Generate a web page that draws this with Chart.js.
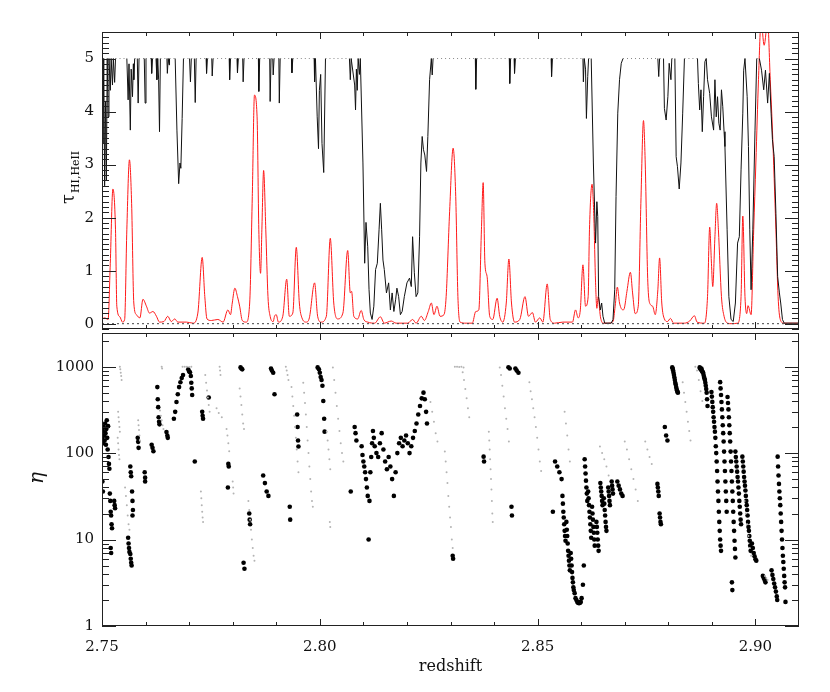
<!DOCTYPE html>
<html lang="en">
<head>
<meta charset="UTF-8">
<title>tau HI / HeII and eta vs redshift</title>
<script src="https://cdn.jsdelivr.net/npm/chart.js"></script>
<style>
  * { margin: 0; padding: 0; box-sizing: border-box; }
  body { background: #fff; width: 830px; height: 692px; position: relative; overflow: hidden; }
  .panel { position: absolute; left: 0; width: 830px; }
  #topPanel { top: 0; height: 330px; }
  #botPanel { top: 329px; height: 363px; }
</style>
</head>
<body>
<div class="panel" id="topPanel"><canvas id="tauChart"></canvas></div>
<div class="panel" id="botPanel"><canvas id="etaChart"></canvas></div>

<script>
// ---- data ----
const xMajorTicks = [2.75, 2.80, 2.85, 2.90];
const tauTicks = [0, 1, 2, 3, 4, 5];
const etaTicks = [1, 10, 100, 1000];

// tau HI (red)
const hiZ = [
  2.7500,2.7506,2.7514,2.7519,2.7525,2.7531,2.7534,2.7541,2.7547,2.7552,2.7557,2.7563,2.7568,2.7573,2.7579,2.7587,
  2.7594,2.7602,2.7609,2.7617,2.7625,2.7632,2.7642,2.7651,2.7659,2.7667,2.7674,2.7694,2.7709,2.7720,2.7730,2.7736,
  2.7741,2.7751,2.7766,2.7778,2.7789,2.7795,2.7799,2.7805,2.7811,2.7816,2.7822,2.7831,2.7839,2.7845,2.7850,2.7856,
  2.7860,2.7864,2.7867,2.7871,2.7876,2.7881,2.7886,2.7893,
  2.7896,2.7900,2.7905,2.7915,2.7924,2.7930,2.7938,2.7946,2.7953,2.7959,2.7969,2.7976,2.7988,2.7995,2.8003,2.8015,
  2.8024,2.8032,2.8041,2.8053,2.8064,2.8070,2.8073,2.8078,2.8087,2.8095,2.8101,2.8110,2.8126,2.8139,2.8148,2.8164,
  2.8175,2.8202,2.8213,2.8221,2.8233,2.8240,2.8249,2.8256,2.8262,2.8269,2.8276,2.8285,2.8290,2.8298,
  2.8306,2.8312,2.8317,2.8322,2.8336,2.8350,2.8358,2.8365,2.8371,2.8375,2.8379,2.8384,2.8390,2.8397,2.8407,2.8413,
  2.8420,2.8428,2.8434,2.8440,2.8447,2.8459,2.8471,2.8479,2.8488,2.8495,2.8505,2.8512,2.8522,2.8529,2.8539,2.8558,
  2.8580,2.8587,2.8593,2.8598,2.8604,2.8610,2.8616,2.8619,2.8625,2.8629,2.8633,2.8636,2.8639,2.8644,2.8650,2.8661,
  2.8673,2.8678,2.8683,2.8688,2.8696,
  2.8699,2.8705,2.8713,2.8718,2.8724,2.8731,2.8737,2.8743,2.8747,2.8753,2.8759,2.8764,2.8770,2.8776,2.8780,2.8785,
  2.8791,2.8798,2.8805,2.8812,2.8837,2.8849,2.8860,2.8866,2.8883,2.8890,2.8895,2.8899,2.8902,2.8907,2.8911,2.8915,
  2.8922,2.8928,2.8936,2.8944,2.8959,2.8967,2.8971,2.8976,2.8980,2.8983,2.8990,2.8996,2.9001,2.9007,2.9013,2.9020,
  2.9028,2.9034,2.9039,2.9047,2.9052,2.9057,2.9065,2.9100
];
const hiTau = [
  0.09,0.11,0.08,1.14,2.54,1.77,0.33,0.13,0.03,0.08,1.77,3.09,2.27,0.39,0.17,0.11,
  0.46,0.33,0.20,0.23,0.14,0.03,0.04,0.14,0.04,0.09,0.03,0.03,0.01,0.20,1.25,0.51,
  0.09,0.06,0.08,0.03,0.26,0.17,0.39,0.67,0.51,0.33,0.06,0.03,0.39,2.40,4.31,3.90,
  1.77,0.95,1.77,2.89,1.77,0.51,0.14,0.04,
  0.14,0.17,0.03,0.14,0.84,0.14,0.20,1.44,0.39,0.11,0.03,0.11,0.77,0.14,0.03,0.14,
  1.61,0.39,0.09,0.20,1.38,0.58,0.61,0.14,0.09,0.25,0.08,0.03,0.01,0.13,0.01,0.05,
  0.01,0.01,0.08,0.01,0.14,0.06,0.23,0.39,0.17,0.33,0.14,0.17,0.51,2.12,
  3.31,2.40,0.51,0.03,0.01,0.01,0.23,0.26,1.77,2.66,1.14,0.89,0.14,0.08,0.48,0.14,
  0.03,0.39,1.22,0.39,0.03,0.08,0.51,0.14,0.21,0.03,0.11,0.03,0.75,0.08,0.01,0.03,
  0.03,0.26,0.11,0.26,1.11,0.33,0.51,1.77,2.63,2.02,0.77,0.29,0.51,0.14,0.01,0.01,
  0.04,0.33,0.69,0.39,0.26,
  0.29,0.61,0.97,0.58,0.19,0.33,2.27,3.83,3.03,0.77,0.36,0.33,0.17,0.64,1.24,0.39,
  0.09,0.04,0.10,0.01,0.01,0.05,0.15,0.03,0.01,0.51,1.82,1.14,0.70,1.64,2.27,1.77,
  0.51,0.14,0.01,0.00,0.01,0.51,2.03,0.51,0.19,0.34,0.17,1.77,3.03,4.60,5.70,5.25,
  5.70,4.60,3.65,1.77,0.51,0.08,0.01,0.01
];

// tau HeII (black), capped at 5
const heZ = [
  2.7500,2.7502,2.7504,2.7506,2.7508,2.7510,2.7512,2.7514,2.7516,2.7519,2.7521,2.7524,2.7526,2.7529,2.7531,
  2.7557,2.7560,2.7562,2.7565,2.7567,2.7570,2.7572,2.7573,2.7575,2.7581,2.7583,2.7585,2.7597,2.7599,2.7601,
  2.7613,2.7614,2.7616,2.7624,2.7626,2.7628,2.7630,2.7632,2.7634,2.7649,2.7650,2.7652,2.7654,2.7655,
  2.7668,2.7672,2.7676,2.7679,2.7681,2.7684,2.7687,2.7701,2.7703,2.7705,2.7712,2.7714,2.7716,
  2.7739,2.7740,2.7742,2.7752,2.7753,2.7755,2.7792,2.7793,2.7795,2.7810,2.7811,2.7813,2.7823,2.7824,2.7826,
  2.7859,2.7860,2.7862,2.7885,2.7886,2.7888,2.7892,2.7893,2.7895,2.7906,2.7907,2.7909,2.7935,2.7936,2.7938,
  2.7987,2.7988,2.7990,2.7994,2.7997,2.7999,2.8002,2.8005,2.8009,2.8013,
  2.8068,2.8070,2.8072,2.8080,2.8082,2.8084,2.8086,2.8088,2.8091,2.8093,2.8099,2.8103,2.8106,2.8110,2.8113,
  2.8116,2.8120,2.8124,2.8128,2.8132,2.8136,2.8139,2.8142,2.8145,2.8148,2.8153,2.8158,2.8162,2.8166,2.8170,
  2.8174,2.8177,2.8181,2.8185,2.8189,2.8194,2.8200,2.8206,2.8210,2.8213,2.8217,2.8221,2.8225,2.8229,2.8232,
  2.8235,2.8238,2.8241,2.8245,2.8248,2.8252,2.8256,2.8258,2.8260,
  2.8357,2.8358,2.8360,2.8435,2.8436,2.8438,2.8446,2.8447,2.8449,2.8531,2.8532,2.8534,
  2.8604,2.8605,2.8607,2.8610,2.8612,2.8615,2.8617,2.8623,2.8628,2.8633,2.8636,2.8638,2.8640,2.8644,2.8647,
  2.8650,2.8654,2.8669,2.8673,2.8677,2.8680,2.8684,2.8688,2.8692,2.8696,
  2.8776,2.8778,2.8780,2.8789,2.8791,2.8795,2.8799,2.8802,2.8806,2.8808,2.8815,2.8818,2.8821,2.8825,2.8829,
  2.8833,2.8837,2.8867,2.8869,2.8872,2.8875,2.8878,2.8881,2.8884,2.8887,2.8890,2.8895,2.8899,2.8904,2.8907,
  2.8910,2.8913,2.8916,2.8919,2.8922,2.8925,2.8928,2.8930,2.8935,2.8939,2.8944,2.8949,2.8954,2.8959,2.8963,
  2.8967,2.8971,2.8973,2.8976,2.8981,2.8984,2.8987,2.8990,2.8994,2.8999,2.9003,2.9009,2.9014,2.9019,2.9023,
  2.9028,2.9032,2.9036,2.9039,2.9043,2.9047,2.9051,2.9055,2.9058,2.9062,2.9066,2.9100
];
const heTau = [
  5,3.4,5,2.6,4.2,2.7,5,3.9,5,4.4,5,4.5,5,4.55,5,
  5,4.22,4.9,3.65,4.8,4.28,4.9,4.6,5,5,4.16,5,5,4.16,5,
  5,4.72,5,5,4.6,5,4.6,3.62,5,5,4.72,5,4.88,5,
  5,3.65,2.64,3.03,2.93,3.87,5,5,4.56,5,5,4.17,5,
  5,4.72,5,5,4.67,5,5,4.6,5,5,4.73,5,5,4.56,5,
  5,4.38,5,5,4.19,5,5,4.69,5,5,4.16,5,5,4.73,5,
  5,4.56,5,3.9,3.3,4.4,4.7,3.4,2.85,5,
  5,4.6,5,4.5,4.03,4.8,4.4,5,4.7,5,3.03,1.14,1.91,1.45,0.64,
  0.20,0.08,0.33,1.02,1.14,1.77,2.27,1.77,1.20,1.02,0.58,0.77,0.26,0.58,0.23,
  0.45,0.67,0.51,0.17,0.23,0.51,0.77,0.86,0.70,1.64,0.96,0.51,0.58,1.64,3.03,
  3.53,3.28,3.18,2.87,3.53,4.6,5,4.69,5,
  5,4.42,5,5,4.53,5,5,4.72,5,5,4.66,5,
  5,4.56,5,4.8,3.87,4.66,5,5,3.03,1.52,2.30,2.02,0.51,0.26,0.39,
  0.14,0.01,0.01,0.08,0.64,2.40,3.97,4.6,4.91,5,
  5,4.66,5,5,4.06,3.84,4.28,4.91,4.6,5,5,3.15,2.96,2.54,3.03,
  3.97,5,5,4.53,4.03,4.41,3.62,4.28,4.94,5,4.6,4.34,3.9,3.65,4.6,
  3.9,4.28,3.78,3.65,4.41,4.09,3.62,3.34,1.77,0.51,0.08,0.04,0.39,1.52,1.64,
  2.90,3.97,4.78,5,4.28,3.34,1.77,0.64,1.77,3.65,5,5,4.78,4.41,4.78,
  4.16,4.72,3.97,3.47,3.15,2.08,0.89,0.58,0.39,0.08,0.01,0.01
];

// eta, black dots
const etaBlackZ = [
  2.7501,2.7502,2.7503,2.7504,2.7505,2.7506,2.7507,2.7508,2.7509,2.7510,2.7511,2.7512,2.7513,2.7514,2.7515,2.7516,
  2.7517,2.7501,2.7502,2.7518,2.7519,2.7520,2.7521,2.7522,2.7523,2.7520,2.7521,2.7528,2.7529,2.7530,
  2.7560,2.7561,2.7562,2.7563,2.7565,2.7566,2.7567,2.7568,2.7569,2.7570,2.7571,2.7570,2.7565,2.7566,2.7567,
  2.7582,2.7583,2.7584,2.7598,2.7599,2.7599,2.7614,2.7616,2.7618,
  2.7627,2.7628,2.7629,2.7630,2.7631,2.7632,2.7648,2.7650,2.7651,
  2.7665,2.7668,2.7671,2.7674,2.7677,2.7680,2.7683,2.7686,2.7698,2.7700,2.7702,2.7704,2.7705,2.7706,2.7707,
  2.7713,2.7730,2.7731,2.7732,2.7745,2.7790,2.7791,2.7818,2.7820,2.7822,2.7789,2.7825,2.7827,2.7838,2.7839,2.7840,
  2.7870,2.7874,2.7878,2.7882,2.7888,2.7890,2.7893,2.7896,2.7931,2.7932,2.7948,2.7949,2.7950,2.7951,
  2.7995,2.7998,2.8000,2.8002,2.8004,2.8006,2.8008,2.8010,2.8011,2.8071,2.8080,2.8082,2.8084,
  2.8096,2.8098,2.8100,2.8102,2.8104,2.8106,2.8108,2.8110,2.8112,2.8114,2.8116,2.8118,2.8120,2.8122,2.8124,2.8126,
  2.8130,2.8134,2.8138,2.8142,2.8146,2.8150,2.8154,2.8158,2.8162,2.8166,2.8170,2.8174,2.8178,2.8182,2.8186,2.8190,
  2.8194,2.8198,2.8202,2.8206,2.8210,2.8214,2.8218,2.8222,2.8226,2.8230,2.8234,2.8238,2.8241,2.8244,2.8246,
  2.8305,2.8306,2.8376,2.8377,2.8433,2.8436,2.8440,2.8441,2.8449,2.8452,2.8456,2.8535,
  2.8540,2.8545,2.8550,2.8555,
  2.8557,2.8558,2.8559,2.8560,2.8561,2.8562,2.8563,2.8564,
  2.8566,2.8567,2.8568,2.8569,2.8570,2.8571,2.8572,2.8573,2.8574,
  2.8576,2.8577,2.8578,2.8579,2.8580,2.8581,2.8582,2.8583,
  2.8585,2.8587,2.8589,2.8591,2.8593,2.8595,2.8597,2.8599,2.8601,2.8604,2.8606,
  2.8608,2.8609,2.8610,2.8611,2.8612,2.8613,2.8614,
  2.8616,2.8617,2.8618,2.8619,2.8620,2.8621,2.8622,2.8623,
  2.8625,2.8626,2.8627,2.8628,2.8629,2.8630,2.8631,
  2.8635,2.8636,2.8637,2.8638,2.8639,2.8640,
  2.8644,2.8645,2.8646,2.8647,2.8648,2.8649,
  2.8652,2.8653,2.8654,2.8655,2.8656,2.8657,2.8658,
  2.8662,2.8663,2.8664,2.8665,2.8666,2.8670,2.8671,2.8672,2.8673,
  2.8683,2.8686,2.8689,2.8692,2.8695,
  2.8775,2.8776,2.8777,2.8778,2.8780,2.8781,2.8782,2.8783,2.8792,2.8795,2.8798,
  2.8809,2.8810,2.8811,2.8812,2.8813,2.8814,2.8815,2.8816,2.8817,2.8818,2.8819,2.8820,2.8821,2.8822,
  2.8872,2.8873,2.8874,2.8875,2.8876,2.8877,2.8878,2.8879,2.8880,2.8881,2.8882,2.8883,2.8884,2.8885,2.8886,2.8887,
  2.8888,2.8889,2.8890,
  2.8899,2.8900,2.8901,2.8902,2.8903,2.8904,2.8905,2.8906,2.8907,2.8908,2.8909,2.8910,2.8911,2.8912,2.8913,2.8914,
  2.8915,2.8916,2.8917,2.8918,2.8919,2.8920,2.8921,
  2.8919,2.8920,2.8921,2.8922,2.8923,2.8924,2.8925,2.8926,2.8927,2.8928,2.8929,2.8930,2.8931,2.8932,2.8933,2.8934,
  2.8936,2.8937,2.8938,2.8939,2.8940,2.8941,2.8942,2.8943,2.8944,2.8945,2.8946,2.8947,2.8948,2.8949,2.8950,2.8951,
  2.8952,2.8953,2.8954,2.8946,2.8947,
  2.8954,2.8955,2.8956,2.8957,2.8958,2.8959,2.8960,2.8961,2.8962,2.8963,2.8964,2.8965,2.8966,2.8967,
  2.8970,2.8971,2.8972,2.8973,2.8974,2.8975,2.8976,2.8977,2.8978,2.8979,2.8980,2.8981,2.8982,2.8983,2.8984,2.8985,
  2.8986,2.8987,2.8988,2.8989,
  2.8992,2.8994,2.8996,2.8998,2.9000,2.9002,2.9017,2.9019,2.9021,2.9023,
  2.9037,2.9039,2.9041,2.9043,2.9045,2.9047,2.9049,2.9050,
  2.9051,2.9052,2.9053,2.9054,2.9055,2.9056,2.9057,2.9058,2.9059,2.9060,2.9061,2.9062,2.9063,2.9064,2.9065,2.9066,
  2.9067,2.9068,2.9069
];
const etaBlack = [
  150,180,130,200,160,140,220,170,125,190,240,150,110,205,90,75,
  66,47,36,34,28,21,19,15,13.5,8,7,28,25,23,
  10.5,9,8,7.2,6.8,6,5.4,5,36,28,22,19,70,60,54,
  150,135,115,60,52,47,125,115,105,
  580,420,340,260,230,215,175,160,150,
  250,300,390,480,580,660,740,800,930,880,860,780,650,560,470,
  80,300,270,250,440,75,70,980,950,930,40,5.4,4.6,20,17,15,
  55,45,36,32,950,900,850,480,24,17,280,200,140,119,
  980,930,850,760,700,600,400,250,177,36,200,170,140,
  120,95,80,70,60,50,40,32,10,28,60,90,130,180,150,120,
  100,90,130,170,110,80,65,90,70,50,32,60,100,130,150,120,
  140,160,130,100,120,150,180,220,280,350,430,500,420,300,220,
  6.5,6,91,80,984,950,24,19,950,900,850,21,
  80,70,60,50,
  32,26,21,18,15,12.6,11,9.7,
  16,13,11,9,7.4,6.5,5.7,5,4.4,
  7,6,5,4.2,3.6,3.2,2.8,2.6,
  2.4,2.1,2.0,1.9,1.85,1.84,1.85,1.9,2.1,3,5,
  85,70,58,48,40,34,28,
  36,30,25,21,18,15,12.6,10.5,
  24,20,17,14,12,10,8.5,
  16,14,12,10,8.5,7.4,
  45,40,36,32,28,25,
  30,26,22,19,16,14,12.6,
  40,36,32,28,25,47,42,38,34,
  47,42,38,34,32,
  44,40,36,32,20,18,16,15,200,160,140,
  980,950,900,850,800,750,700,650,620,580,550,530,510,500,
  980,960,940,920,950,900,880,860,850,800,760,730,700,650,600,550,
  500,420,350,
  509,450,391,340,300,260,230,200,177,150,120,100,80,62,47,36,
  28,21,16,12.6,10,8.5,7.4,
  662,560,470,390,320,260,210,170,136,104,80,62,47,36,28,21,
  446,380,320,260,210,170,136,104,80,62,47,36,28,21,16,12.6,
  9.7,7.8,6.2,3.2,2.6,
  104,90,80,70,61,53,47,40,34,28,24,20,17,15,
  91,80,70,61,53,47,42,37,32,28,25,22,19,16,14,12.6,
  11,9.7,8.5,7.4,
  9,8,7,6.4,5.9,5.7,3.8,3.6,3.4,3.2,
  4.4,3.9,3.5,3.1,2.8,2.5,2.2,2.0,
  91,70,55,44,36,30,25,20,16,12.6,10,8,6.5,5.5,4.6,3.8,
  3.2,2.8,1.9
];

// eta, grey dots (streaks)
const etaGreyZ = [
  2.7541,2.7542,2.7543,2.7544,2.7545, 2.7537,2.7538,2.7539,2.7540,2.7541, 2.7536,2.7537,2.7538,2.7539,2.7540,
  2.7583,2.7584,2.7585,2.7586,2.7587, 2.7553,2.7555,2.7557,2.7559,2.7561,2.7563,
  2.7633,2.7635,2.7637,2.7639,2.7641, 2.7637,2.7638, 2.7685,2.7690,2.7695,2.7700,2.7705,
  2.7737,2.7739,2.7741,2.7743,2.7745,2.7747, 2.7763,2.7768,2.7775, 2.7770,2.7771,2.7772,
  2.7786,2.7788,2.7790,2.7792, 2.7816,2.7818,2.7820,2.7822,2.7824,2.7826,
  2.7727,2.7728,2.7729,2.7730,2.7731,2.7732, 2.7800,2.7801,2.7802,
  2.7836,2.7838,2.7840,2.7842,2.7844,2.7846,2.7848,2.7850,
  2.7922,2.7924,2.7926,2.7928, 2.7935,2.7937,2.7939,2.7941,2.7943,2.7945,2.7947,2.7949,2.7951,
  2.7962,2.7964,2.7966,2.7968,2.7970,2.7972,2.7974,2.7976,2.7978,2.7980,2.7982,2.7984,
  2.8016,2.8018,2.8020,2.8022,2.8024, 2.8023,2.8024,
  2.8030,2.8033,2.8036,2.8039,2.8042,2.8045,2.8048,2.8051,2.8054,
  2.8254,2.8258,2.8262,2.8266,2.8270,
  2.8287,2.8289,2.8291,2.8293,2.8295,2.8297,2.8299,2.8301,2.8303,2.8305,
  2.8310,2.8315,2.8320,2.8325,2.8330, 2.8328,2.8331,2.8334,2.8337,2.8340,2.8343,
  2.8388,2.8389,2.8390,2.8391,2.8392,2.8393,2.8394,2.8395,2.8396,2.8397,
  2.8413,2.8416,2.8419,2.8422,2.8425,2.8428,2.8431,2.8434,
  2.8481,2.8484,2.8487,2.8490,2.8493,2.8496,2.8499,2.8502,2.8505,2.8508,
  2.8562,2.8565,2.8568,2.8571,2.8574, 2.8643,2.8648,2.8653,2.8658,2.8663,
  2.8700,2.8705,2.8710,2.8715,2.8720,2.8725,2.8730, 2.8747,2.8752,2.8757,2.8762,
  2.8833,2.8836,2.8839,2.8842,2.8845,2.8848,2.8851, 2.8862,2.8866,2.8870,2.8874,2.8878,
  2.8975,2.8978,2.8981,2.8984,2.8987,2.8990, 2.9022,2.9025,2.9028
];
const etaGrey = [
  1000,930,850,780,700, 300,260,230,200,177, 150,130,110,95,85,
  240,210,185,160,140, 40,32,25,19,15,13,
  310,270,240,210,190, 1000,950, 1000,1000,1000,990,1000,
  800,650,530,440,360,300, 330,290,260, 1000,900,800,
  190,160,130,105, 560,450,360,280,220,190,
  36,30,25,21,18,16, 47,40,34,
  28,22,17,13,10,8,6.5,5.7,
  1000,900,800,700, 580,450,350,270,200,150,110,80,60,
  650,500,380,280,200,140,100,70,50,36,28,24,
  177,140,110,85,65, 16,14,
  980,700,500,350,250,180,130,100,80,
  390,300,230,170,136,
  104,80,60,45,32,24,18,14,10,8,
  1000,1000,990,1000,980, 860,700,550,430,330,260,
  177,140,110,85,65,50,38,28,20,16,
  980,800,600,450,330,250,190,136,
  660,520,420,330,260,200,150,110,80,62,
  300,220,160,110,80, 119,100,85,70,55,
  136,110,85,65,50,38,28, 136,110,90,75,
  660,500,390,300,230,180,140, 1000,900,700,520,400,
  28,20,15,11,8,6.5, 3.8,3.6,3.4
];

// ---- helpers ----
const pts = (xs, ys) => xs.map((x, i) => ({ x: x, y: ys[i] }));
const serif = 'DejaVu Serif';
const X_MIN = 2.75, X_MAX = 2.91;

// inward tick marks and frame, drawn on every edge like the original plot
const frameTicks = {
  id: 'frameTicks',
  afterDraw(chart, args, opts) {
    const { ctx, chartArea: a, scales } = chart;
    const xs = scales.x, ys = scales.y;
    ctx.save();
    ctx.strokeStyle = '#222';
    ctx.lineWidth = 1;
    ctx.strokeRect(Math.round(a.left) + 0.5, Math.round(a.top) + 0.5,
                   Math.round(a.width) - 1, Math.round(a.height) - 1);
    ctx.beginPath();
    const tickX = (v, len) => {
      const px = Math.round(xs.getPixelForValue(v)) + 0.5;
      ctx.moveTo(px, a.top); ctx.lineTo(px, a.top + len);
      ctx.moveTo(px, a.bottom); ctx.lineTo(px, a.bottom - len);
    };
    const tickY = (v, len) => {
      const py = Math.round(ys.getPixelForValue(v)) + 0.5;
      ctx.moveTo(a.left, py); ctx.lineTo(a.left + len, py);
      ctx.moveTo(a.right, py); ctx.lineTo(a.right - len, py);
    };
    for (let k = 1; k < 16; k++) {
      if (k % 5) tickX(X_MIN + k * 0.01, 4);
    }
    xMajorTicks.forEach(v => tickX(v, 7));
    opts.yMinor.forEach(v => tickY(v, 7));
    opts.yMajor.forEach(v => tickY(v, 14));
    ctx.stroke();

    // axis titles
    ctx.fillStyle = '#111';
    if (opts.title === 'tau') {
      ctx.translate(74, 204);
      ctx.rotate(-Math.PI / 2);
      ctx.font = '18px ' + serif;
      ctx.textBaseline = 'alphabetic';
      ctx.fillText('τ', 0, 0);
      const w = ctx.measureText('τ').width;
      ctx.font = '11px ' + serif;
      ctx.fillText('HI,HeII', w + 1, 5);
    } else if (opts.title === 'eta') {
      ctx.translate(43, 149);
      ctx.rotate(-Math.PI / 2);
      ctx.font = 'italic 20px ' + serif;
      ctx.textAlign = 'center';
      ctx.fillText('η', 0, 0);
    }
    ctx.restore();
  }
};

const fixAxis = (w, h) => (s) => {
  if (w) s.width = w;
  if (h) s.height = h;
  s.paddingTop = 0; s.paddingBottom = 0; s.paddingLeft = 0; s.paddingRight = 0;
};

// minor tick positions
const tauMinor = [];
for (let k = -1; k <= 55; k++) if (k % 10) tauMinor.push(k / 10);
const etaMinor = [];
[1, 10, 100, 1000].forEach(d => { for (let m = 2; m <= 9; m++) if (d * m < 2450) etaMinor.push(d * m); });

// ---- top panel: optical depths ----
new Chart(document.getElementById('tauChart'), {
  type: 'line',
  data: {
    datasets: [
      {
        label: 'zero',
        data: pts([X_MIN, X_MAX], [0, 0]),
        borderColor: '#444',
        borderWidth: 1,
        borderDash: [2, 3],
        pointRadius: 0
      },
      {
        label: 'tau HeII',
        data: pts(heZ, heTau),
        borderColor: '#111',
        borderWidth: 1,
        pointRadius: 0,
        segment: {
          borderColor: c => (c.p0.parsed.y >= 5 && c.p1.parsed.y >= 5) ? '#888' : undefined,
          borderDash: c => (c.p0.parsed.y >= 5 && c.p1.parsed.y >= 5) ? [1, 3] : undefined
        }
      },
      {
        label: 'tau HI',
        data: pts(hiZ, hiTau),
        borderColor: '#ff1a1a',
        borderWidth: 1,
        pointRadius: 0,
        cubicInterpolationMode: 'monotone'
      }
    ]
  },
  options: {
    responsive: true,
    maintainAspectRatio: false,
    animation: false,
    events: [],
    layout: { padding: { top: 32, right: 31, bottom: 1, left: 0 } },
    plugins: {
      legend: { display: false },
      tooltip: { enabled: false },
      frameTicks: { yMajor: tauTicks, yMinor: tauMinor, title: 'tau' }
    },
    scales: {
      x: { type: 'linear', min: X_MIN, max: X_MAX, display: false },
      y: {
        type: 'linear', min: -0.1, max: 5.5,
        afterBuildTicks: s => { s.ticks = tauTicks.map(v => ({ value: v })); },
        afterFit: fixAxis(102, 0),
        grid: { display: false, drawTicks: false },
        border: { display: false },
        ticks: { padding: 8, color: '#111', font: { family: serif, size: 15 }, callback: v => String(v) }
      }
    }
  },
  plugins: [frameTicks]
});

// ---- bottom panel: eta ----
new Chart(document.getElementById('etaChart'), {
  type: 'scatter',
  data: {
    datasets: [
      {
        label: 'eta (limits)',
        data: pts(etaGreyZ, etaGrey),
        pointRadius: 1,
        pointBackgroundColor: '#b4b4b4',
        pointBorderWidth: 0
      },
      {
        label: 'eta',
        data: pts(etaBlackZ, etaBlack),
        pointRadius: 2.3,
        pointBackgroundColor: '#000',
        pointBorderWidth: 0
      }
    ]
  },
  options: {
    responsive: true,
    maintainAspectRatio: false,
    animation: false,
    events: [],
    layout: { padding: { top: 0, right: 31, bottom: 0, left: 0 } },
    plugins: {
      legend: { display: false },
      tooltip: { enabled: false },
      frameTicks: { yMajor: etaTicks, yMinor: etaMinor, title: 'eta' }
    },
    scales: {
      x: {
        type: 'linear', min: X_MIN, max: X_MAX,
        afterBuildTicks: s => { s.ticks = xMajorTicks.map(v => ({ value: v })); },
        afterFit: fixAxis(0, 66),
        grid: { display: false, drawTicks: false },
        border: { display: false },
        ticks: { padding: 12, maxRotation: 0, color: '#111', font: { family: serif, size: 15 }, callback: v => v.toFixed(2) },
        title: { display: true, text: 'redshift', color: '#111', font: { family: serif, size: 16 }, padding: { top: 0, bottom: 16 } }
      },
      y: {
        type: 'logarithmic', min: 1, max: 2450,
        afterBuildTicks: s => { s.ticks = etaTicks.map(v => ({ value: v })); },
        afterFit: fixAxis(102, 0),
        grid: { display: false, drawTicks: false },
        border: { display: false },
        ticks: { padding: 8, color: '#111', font: { family: serif, size: 15 }, callback: v => String(v) }
      }
    }
  },
  plugins: [frameTicks]
});
</script>
</body>
</html>
